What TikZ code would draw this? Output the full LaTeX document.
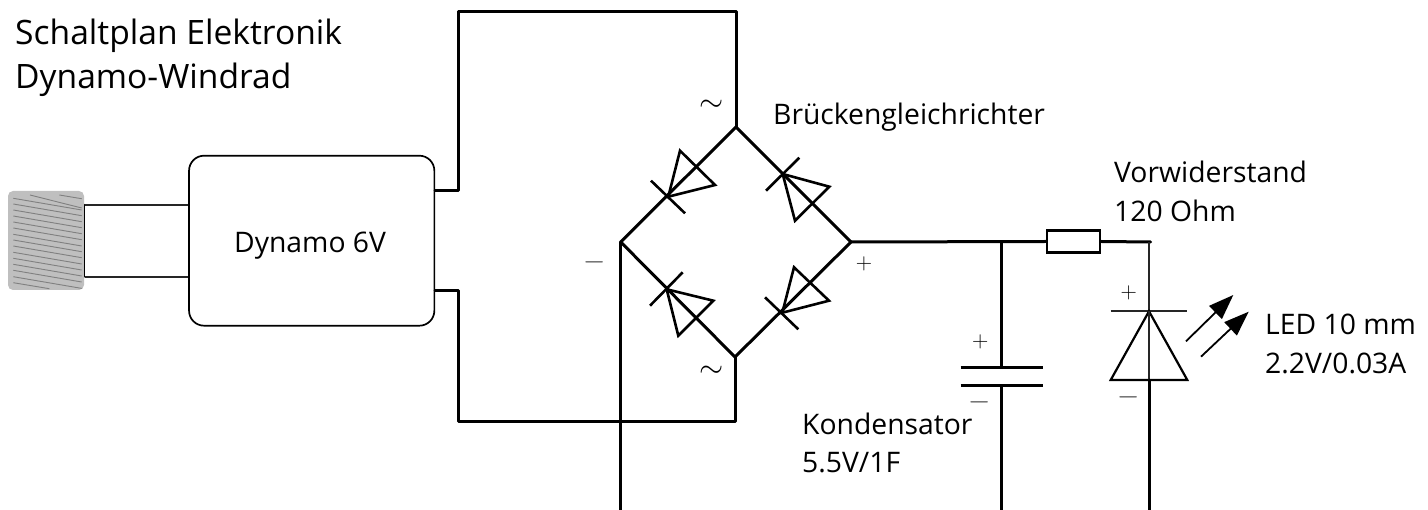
\documentclass[tikz,border=0pt]{standalone}
\usepackage{fontspec}
\setmainfont{Open Sans}
\usetikzlibrary{arrows.meta}
\tikzset{
  x=1pt,y=-1pt,
  wire/.style={line width=3pt,line cap=round,line join=round,black},
  thinwire/.style={line width=1.8pt,black!85},
  sym/.style={line width=2.6pt,line join=miter,black},
  lbl/.style={anchor=base west,inner sep=0pt,font=\fontsize{28.3}{32}\selectfont},
  ttl/.style={anchor=base west,inner sep=0pt,font=\fontsize{33.6}{38}\selectfont},
  sgn/.style={inner sep=0pt,scale=1.09,font=\fontsize{20.74}{24}\selectfont},
  sgnm/.style={inner sep=0pt,scale=1.15,text=black!75,font=\fontsize{24.88}{28}\selectfont},
  tld/.style={inner sep=0pt,scale=1.25,font=\fontsize{24.88}{28}\selectfont},
  hatch/.style={line width=.9pt,black!50},
  ray/.style={line width=1.8pt,-{Triangle[length=25pt,width=18pt]}},
}
\newcommand{\diode}[5]{% centre, bar1, bar2, tri1, tri2 coordinates
  \draw[sym] (#2) -- (#3);
  \draw[sym] (#1) -- (#4) -- (#5) -- cycle;
}
\begin{document}
\begin{tikzpicture}
\useasboundingbox (0,0) rectangle (1428,510);
% coordinates
\coordinate (T) at (736,127);
\coordinate (L) at (620.7,242);
\coordinate (R) at (851,242);
\coordinate (B) at (735,357);
\coordinate (ttop1) at (736,12);
\coordinate (ttop2) at (458,12);
\coordinate (ttop3) at (458,190.7);
\coordinate (bbot1) at (735,422);
\coordinate (bbot2) at (458,422);
\coordinate (bbot3) at (458,290.7);
\coordinate (Lend) at (620.7,510);
\coordinate (capT) at (1001.3,367.3);
\coordinate (capB) at (1001.3,386);
\coordinate (capJ) at (1001.3,242);
\coordinate (capEnd) at (1001.3,510);
\coordinate (ledJ) at (1150.7,242);
\coordinate (ledA) at (1149,311.3);
\coordinate (ledC) at (1149,380);
\coordinate (ledEnd) at (1149,510);
% rotor
\node[draw=none,fill=black!25,rounded corners=5pt,minimum width=76pt,minimum height=99pt,inner sep=0pt] (rotor) at (46,240.5) {};
\foreach \yy in {198.3,204,210,216,222,228,234.3,240,246,252.3,258.3,264.3,270.3,276.7}
  \draw[hatch] (13.3,\yy) -- (81.7,\yy+11.7);
\draw[hatch] (30,195) -- (81.7,208);
\draw[hatch] (59.3,195) -- (81.7,198.7);
\draw[hatch] (13.3,282.7) -- (49.3,288.7);
% dynamo
\node[draw,line width=1.7pt,rounded corners=15pt,minimum width=245.3pt,minimum height=170pt,inner sep=0pt] (dyn) at (311.7,240.7) {};
\node[lbl] (dynl) at (234,252.7) {Dynamo 6V};
% shaft
\draw[thinwire] (84.5,204.7) coordinate (s1) -- (dyn.west |- s1);
\draw[thinwire] (84.5,276.7) coordinate (s2) -- (dyn.west |- s2);
\draw[wire,line width=1.8pt] (s1) -- (s2);
% wires
\draw[wire] (T) -- (ttop1) -- (ttop2) -- (ttop3) -- (dyn.east |- ttop3);
\draw[wire] (B) -- (bbot1) -- (bbot2) -- (bbot3) -- (dyn.east |- bbot3);
\draw[wire] (L) -- (Lend);
% bridge
\draw[wire] (T) -- (L) -- (B) -- (R) -- cycle;
\diode{668.3,196.7}{651,180.7}{685,213.3}{680,150.7}{715,185}
\diode{782.7,174}{766,190.7}{799.3,157.7}{829.3,186.7}{795,220.7}
\diode{666.7,289.3}{650,305.7}{682.7,272.3}{713.3,300.7}{678.3,335.7}
\diode{782.3,312.7}{765,297.3}{798.3,329.3}{794,267.3}{829,300.7}
% output
\node[draw,line width=2.6pt,minimum width=53pt,minimum height=22pt,inner sep=0pt] (res) at (1073.5,241.5) {};
\draw[wire] (R) -- (res.west);
\draw[wire] (res.east) -- (ledJ);
% capacitor
\draw[wire] (capJ) -- (capT);
\draw[wire] (capB) -- (capEnd);
\draw[wire,line cap=butt] (960.7,367.3) -- (1042.7,367.3);
\draw[wire,line cap=butt] (960.7,386) -- (1042.7,386);
% LED
\draw[thinwire] (ledA |- ledJ) -- (ledA);
\draw[line width=1.8pt,black!85] (1110.7,311.3) -- (1187.3,311.3);
\draw[line width=2.2pt,line join=miter] (ledA) -- (1110.7,380) -- (1187.3,380) -- cycle;
\draw[thinwire] (ledA) -- (ledC);
\draw[wire] (ledC) -- (ledEnd);
\draw[ray] (1186,341.3) -- (1233.3,295);
\draw[ray] (1201,356.7) -- (1248.7,311.7);
% signs
\node[tld] (s1a) at (711.7,105.7) {$\sim$};
\node[tld] (s1b) at (711.7,371.7) {$\sim$};
\node[sgnm] (m1) at (595,262.7) {$-$};
\node[sgn] (p1) at (864,264.3) {$+$};
\node[sgn] (p2) at (980.3,342.3) {$+$};
\node[sgnm] (m2) at (980,402) {$-$};
\node[sgn] (p3) at (1128.7,293) {$+$};
\node[sgnm] (m3) at (1128.7,397.3) {$-$};
% text
\node[ttl] (t1) at (15,45) {Schaltplan Elektronik};
\node[ttl] (t2) at (15,88.5) {Dynamo-Windrad};
\node[lbl] (a) at (773,125) {Brückengleichrichter};
\node[lbl] (b) at (1114,182.3) {Vorwiderstand};
\node[lbl] (c) at (1114,221.7) {120 Ohm};
\node[lbl] (d) at (1265,335) {LED 10 mm};
\node[lbl] (e) at (1265,374) {2.2V/0.03A};
\node[lbl] (f) at (802,435) {Kondensator};
\node[lbl] (g) at (802,473) {5.5V/1F};
\end{tikzpicture}
\end{document}
